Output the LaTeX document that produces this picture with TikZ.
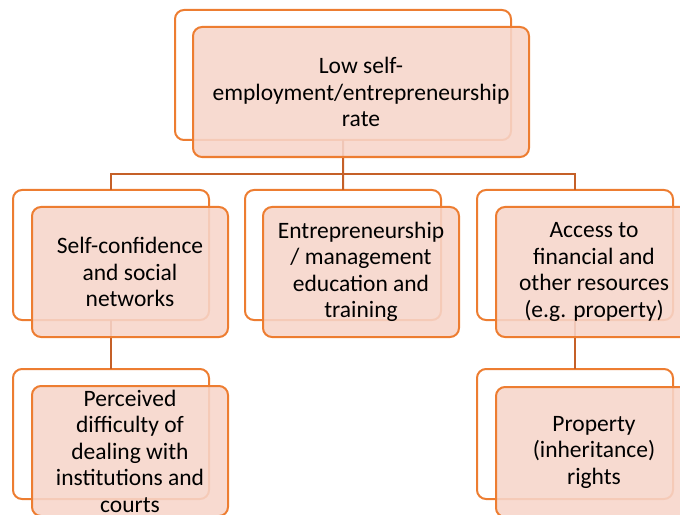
\documentclass[tikz,border=0pt]{standalone}
\usepackage{fontspec}
\setmainfont{Carlito}
\definecolor{boxline}{RGB}{237,125,49}
\definecolor{boxfill}{RGB}{247,213,202}
\definecolor{linkline}{RGB}{197,96,40}
\begin{document}
\begin{tikzpicture}[x=1bp,y=-1bp,
  backbox/.style={draw=boxline, line width=2bp, rounded corners=9bp, fill=white,
    minimum width=196bp, minimum height=130bp, anchor=north west, inner sep=0pt, outer sep=0pt},
  frontbox/.style={draw=boxline, line width=2bp, rounded corners=9bp, fill=boxfill,
    fill opacity=0.88, text opacity=1, minimum width=196bp, minimum height=130bp,
    anchor=north west, inner sep=0pt, outer sep=0pt, align=center,
    font=\fontsize{23.5bp}{26.5bp}\selectfont},
  link/.style={draw=linkline, line width=2bp}]
\useasboundingbox (0,0) rectangle (680,515);
\clip (0,0) rectangle (680,515);

% back frames
\node[backbox, minimum width=336bp] (topback) at (175,10) {};
\node[backbox] (leftback) at (13,190) {};
\node[backbox] (midback) at (245,190) {};
\node[backbox] (rightback) at (477,190) {};
\node[backbox] (llback) at (13,369) {};
\node[backbox] (lrback) at (477,369) {};

% tree connectors
\coordinate (bus) at (343,174);
\draw[link] (topback.south) -- (bus);
\draw[link] (leftback.north) |- (bus) -| (rightback.north);
\draw[link] (bus) -- (midback.north);
\draw[link] (leftback.south) -- (llback.north);
\draw[link] (rightback.south) -- (lrback.north);

% front boxes with labels
\node[frontbox, minimum width=336bp] (top) at (193,27)
  {Low self-\\employment/entrepreneurship\\rate};
\node[frontbox] (left) at (32,207)
  {Self-confidence\\and social\\networks};
\node[frontbox] (mid) at (263,207)
  {Entrepreneurship\\/ management\\education and\\training};
\node[frontbox] (right) at (496,207)
  {Access to\\financial and\\other resources\\(e.g. property)};
\node[frontbox] (ll) at (32,386)
  {Perceived\\difficulty of\\dealing with\\institutions and\\courts};
\node[frontbox] (lr) at (496,387)
  {Property\\(inheritance)\\rights};
\end{tikzpicture}
\end{document}
